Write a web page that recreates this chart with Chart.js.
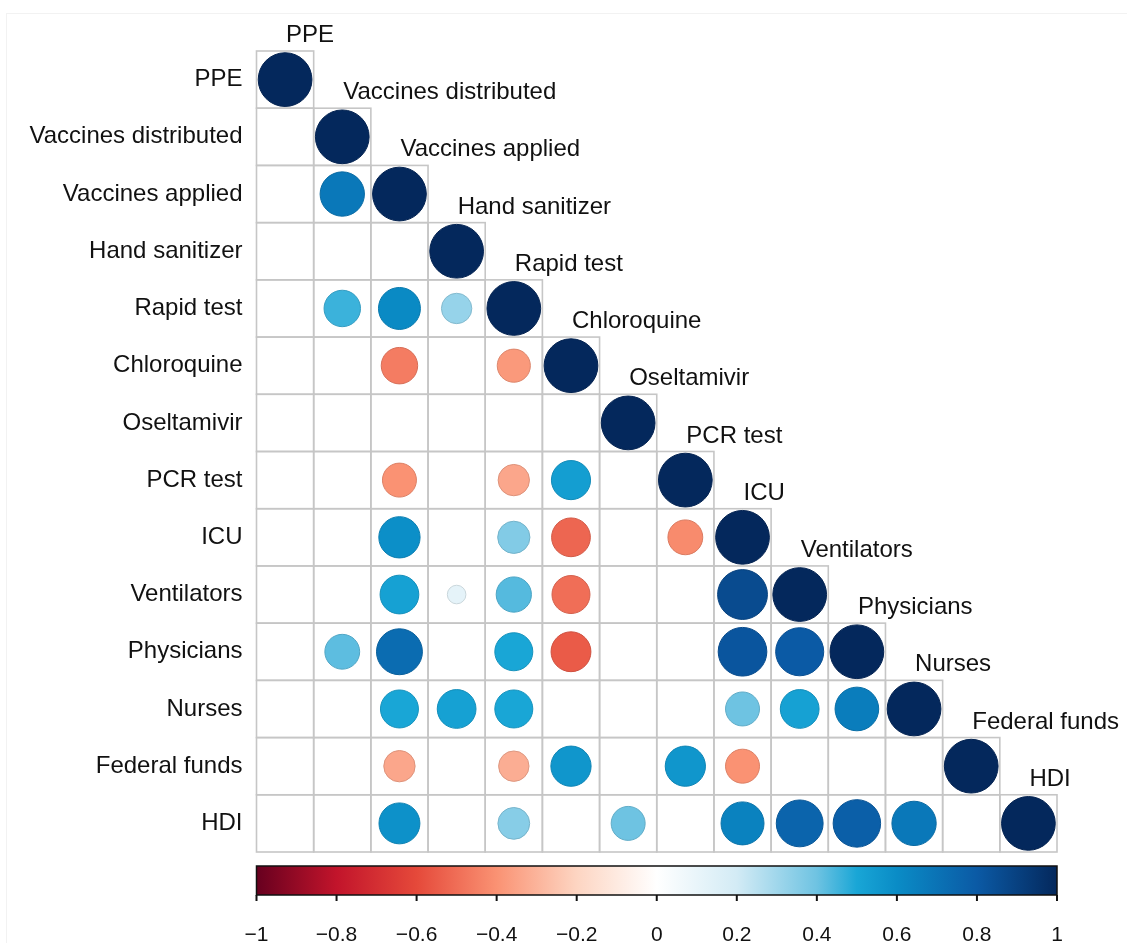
<!DOCTYPE html>
<html lang="en">
<head>
    <meta charset="UTF-8">
    <title>Correlation matrix</title>
    <script src="https://cdn.jsdelivr.net/npm/chart.js"></script>
    <style>
        body {
            margin: 0;
            background: #fff;
        }
        .wrap {
            position: relative;
            width: 1127px;
            height: 943px;
        }
        .frame {
            position: absolute;
            left: 6px;
            top: 13px;
            right: 0;
            bottom: 0;
            border-left: 1px solid #f2f2f2;
            border-top: 1px solid #f2f2f2;
            pointer-events: none;
        }
    </style>
</head>
<body>
    <div class="wrap">
        <div class="frame"></div>
        <canvas id="corrChart"></canvas>
    </div>

    <script>
        // variables (rows top to bottom, columns left to right)
        const variables = ['PPE', 'Vaccines distributed', 'Vaccines applied', 'Hand sanitizer',
            'Rapid test', 'Chloroquine', 'Oseltamivir', 'PCR test', 'ICU', 'Ventilators',
            'Physicians', 'Nurses', 'Federal funds', 'HDI'];

        // lower triangle of the correlation matrix, null = not shown
        const corrLower = [
            [1],
            [null, 1],
            [null, 0.68, 1],
            [null, null, null, 1],
            [null, 0.46, 0.61, 0.32, 1],
            [null, null, -0.46, null, -0.38, 1],
            [null, null, null, null, null, null, 1],
            [null, null, -0.40, null, -0.34, 0.53, null, 1],
            [null, null, 0.59, null, 0.36, -0.52, null, -0.42, 1],
            [null, null, 0.52, 0.12, 0.43, -0.50, null, null, 0.86, 1],
            [null, 0.42, 0.73, null, 0.50, -0.55, null, null, 0.82, 0.80, 1],
            [null, null, 0.50, 0.52, 0.50, null, null, null, 0.40, 0.52, 0.66, 1],
            [null, null, -0.34, null, -0.32, 0.56, null, 0.56, -0.40, null, null, null, 1],
            [null, null, 0.58, null, 0.35, null, 0.40, null, 0.64, 0.76, 0.78, 0.68, null, 1]
        ];

        // colour bar ticks
        const colorbarTicks = [-1, -0.8, -0.6, -0.4, -0.2, 0, 0.2, 0.4, 0.6, 0.8, 1];

        // palette (value -> colour)
        const colorStops = [
            [-1, '#67001F'], [-0.8, '#C2142B'], [-0.6, '#E5493A'], [-0.4, '#FA9273'],
            [-0.2, '#FDD5C2'], [0, '#FFFFFF'], [0.2, '#D3EBF5'], [0.4, '#6EC3E2'],
            [0.5, '#19A6D6'], [0.6, '#0A8CC6'], [0.8, '#0B5AA5'], [1, '#04285C']
        ];

        function hexToRgb(h) {
            return [parseInt(h.slice(1, 3), 16), parseInt(h.slice(3, 5), 16), parseInt(h.slice(5, 7), 16)];
        }

        function colorFor(v, dark) {
            let k = 0;
            while (k < colorStops.length - 2 && v > colorStops[k + 1][0]) k++;
            const [v0, c0] = colorStops[k];
            const [v1, c1] = colorStops[k + 1];
            const t = Math.max(0, Math.min(1, (v - v0) / (v1 - v0)));
            const a = hexToRgb(c0), b = hexToRgb(c1);
            const f = dark ? 0.88 : 1;
            const rgb = a.map((x, i) => Math.round((x + (b[i] - x) * t) * f));
            return 'rgb(' + rgb.join(',') + ')';
        }

        const points = [];
        corrLower.forEach((row, i) => {
            row.forEach((v, j) => {
                if (v !== null) points.push({ x: j, y: i, v: v });
            });
        });

        function cellSize(chart) {
            const x = chart.scales.x;
            return x.getPixelForValue(1) - x.getPixelForValue(0);
        }

        function fmtTick(v) {
            const s = (Math.round(v * 10) / 10).toString();
            return s.replace('-', '\u2212');
        }

        // cell borders of the lower triangle
        const gridPlugin = {
            id: 'cellGrid',
            beforeDatasetsDraw(chart) {
                const { ctx, scales: { x, y } } = chart;
                ctx.save();
                ctx.strokeStyle = '#c6c6c6';
                ctx.lineWidth = 1.6;
                corrLower.forEach((row, i) => {
                    row.forEach((v, j) => {
                        const x0 = x.getPixelForValue(j - 0.5), x1 = x.getPixelForValue(j + 0.5);
                        const y0 = y.getPixelForValue(i - 0.5), y1 = y.getPixelForValue(i + 0.5);
                        ctx.strokeRect(x0, y0, x1 - x0, y1 - y0);
                    });
                });
                ctx.restore();
            }
        };

        // variable names above the diagonal
        const diagLabelPlugin = {
            id: 'diagLabels',
            afterDraw(chart) {
                const { ctx, scales: { x, y } } = chart;
                ctx.save();
                ctx.font = '24px "Liberation Sans", Arial, sans-serif';
                ctx.fillStyle = '#111';
                ctx.textAlign = 'left';
                ctx.textBaseline = 'alphabetic';
                variables.forEach((name, i) => {
                    ctx.fillText(name, x.getPixelForValue(i) + 1, y.getPixelForValue(i - 0.5) - 9);
                });
                ctx.restore();
            }
        };

        // colour bar drawn on the 'cb' axis
        const colorbarPlugin = {
            id: 'colorbar',
            afterDraw(chart) {
                const { ctx } = chart;
                const cb = chart.scales.cb;
                const top = cb.top + 14, h = 29;
                const grad = ctx.createLinearGradient(cb.left, 0, cb.right, 0);
                colorStops.forEach(([v, c]) => grad.addColorStop((v + 1) / 2, c));
                ctx.save();
                ctx.fillStyle = grad;
                ctx.fillRect(cb.left, top, cb.right - cb.left, h);
                ctx.strokeStyle = '#111';
                ctx.lineWidth = 1.5;
                ctx.strokeRect(cb.left, top, cb.right - cb.left, h);
                ctx.lineWidth = 2;
                cb.ticks.forEach(t => {
                    const px = cb.getPixelForValue(t.value);
                    ctx.beginPath();
                    ctx.moveTo(px, top + h);
                    ctx.lineTo(px, top + h + 6);
                    ctx.stroke();
                });
                ctx.restore();
            }
        };

        Chart.defaults.font.family = '"Liberation Sans", Arial, sans-serif';

        const ctx = document.getElementById('corrChart').getContext('2d');
        new Chart(ctx, {
            type: 'scatter',
            data: {
                datasets: [{
                    data: points,
                    pointRadius: c => 0.47 * cellSize(c.chart) * Math.sqrt(Math.abs(c.raw.v)),
                    pointHoverRadius: c => 0.47 * cellSize(c.chart) * Math.sqrt(Math.abs(c.raw.v)),
                    pointBackgroundColor: c => colorFor(c.raw.v),
                    pointBorderColor: c => colorFor(c.raw.v, true),
                    pointBorderWidth: 1
                }]
            },
            options: {
                responsive: true,
                maintainAspectRatio: false,
                animation: false,
                layout: { padding: { top: 51, right: 70, left: 0, bottom: 0 } },
                plugins: {
                    legend: { display: false },
                    tooltip: { enabled: false }
                },
                scales: {
                    x: { type: 'linear', min: -0.5, max: 13.5, display: false },
                    y: {
                        type: 'linear',
                        min: -0.5,
                        max: 13.5,
                        reverse: true,
                        afterBuildTicks: s => { s.ticks = variables.map((_, i) => ({ value: i })); },
                        afterFit: s => { s.width = 256.5; },
                        grid: { display: false, drawTicks: false },
                        border: { display: false },
                        ticks: {
                            callback: v => variables[v],
                            padding: 14,
                            color: '#111',
                            font: { size: 24 },
                            autoSkip: false
                        }
                    },
                    cb: {
                        type: 'linear',
                        position: 'bottom',
                        min: -1,
                        max: 1,
                        afterBuildTicks: s => { s.ticks = colorbarTicks.map(v => ({ value: v })); },
                        afterFit: s => { s.height = 91; },
                        // invisible tick marks only push the labels below the bar
                        grid: { display: true, drawOnChartArea: false, drawTicks: true, tickLength: 71, color: 'rgba(0,0,0,0)' },
                        border: { display: false },
                        ticks: {
                            callback: v => fmtTick(v),
                            padding: 0,
                            color: '#111',
                            font: { size: 21 },
                            maxRotation: 0,
                            autoSkip: false
                        }
                    }
                }
            },
            plugins: [gridPlugin, diagLabelPlugin, colorbarPlugin]
        });
    </script>
</body>
</html>
